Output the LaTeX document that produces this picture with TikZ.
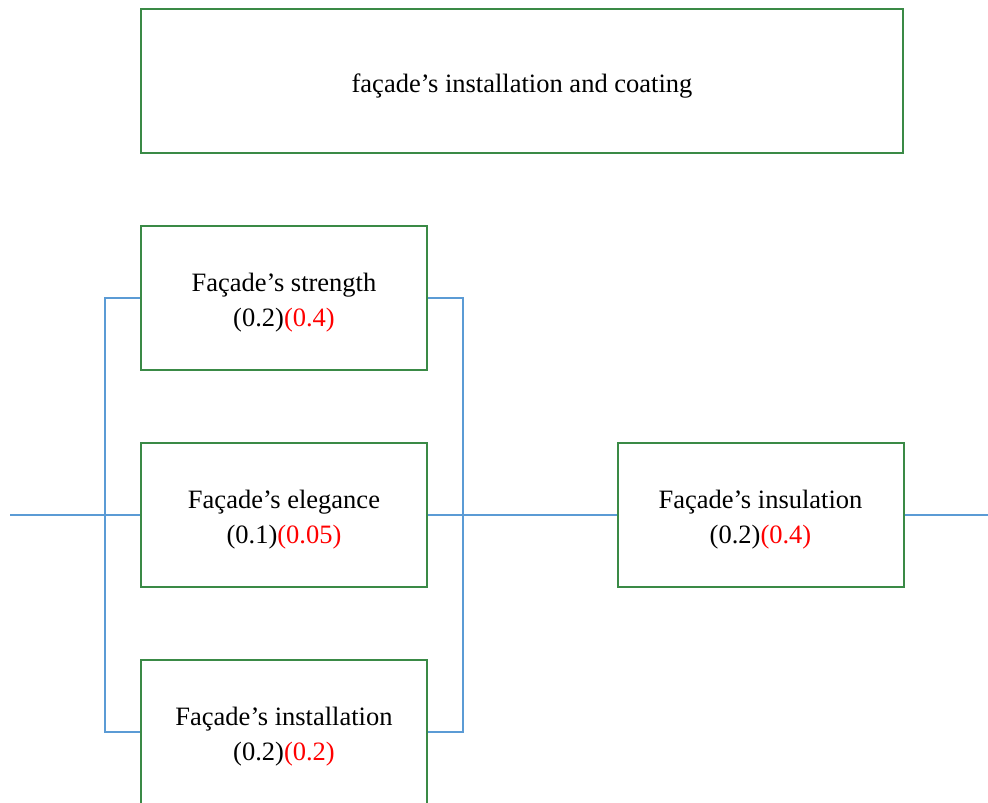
\documentclass[tikz,border=0pt]{standalone}
\usepackage{fontspec}
\setmainfont{Liberation Serif}
\definecolor{boxgreen}{RGB}{58,138,70}
\definecolor{wireblue}{RGB}{91,155,213}
\definecolor{wred}{RGB}{255,0,0}
\tikzset{
	block/.style={draw=boxgreen, line width=2pt, fill=white, inner sep=0pt,
		minimum width=286pt, minimum height=144pt, align=center,
		font=\fontsize{26.5}{35}\selectfont},
	wire/.style={draw=wireblue, line width=2.8pt},
}
% two-line block text, pushed down a little as in the reference
\newcommand{\blk}[3]{\rule{0pt}{28pt}#1\\#2\textcolor{wred}{#3}}

\begin{document}
\begin{tikzpicture}[x=1pt, y=-1pt]
	\useasboundingbox (0, 0) rectangle (988, 803);

	% title
	\node[block, minimum width=762pt] (title) at (522, 81) {\rule{0pt}{28pt}façade’s installation and coating};

	% parallel blocks
	\node[block] (strength) at (284, 298) {\blk{Façade’s strength}{(0.2)}{(0.4)}};
	\node[block] (elegance) at (284, 515) {\blk{Façade’s elegance}{(0.1)}{(0.05)}};
	\node[block] (install) at (284, 732) {\blk{Façade’s installation}{(0.2)}{(0.2)}};

	% series block
	\node[block] (insulation) at (760.5, 515) {\blk{Façade’s insulation}{(0.2)}{(0.4)}};

	% ends
	\coordinate (in) at (10, 515);
	\coordinate (out) at (988, 515);

	% wires
	\draw[wire] (in) -- (elegance.west);
	\draw[wire] (strength.west) -- ++(-35, 0) |- (install.west);
	\draw[wire] (strength.east) -- ++(35, 0) |- (install.east);
	\draw[wire] (elegance.east) -- (insulation.west);
	\draw[wire] (insulation.east) -- (out);
\end{tikzpicture}
\end{document}
